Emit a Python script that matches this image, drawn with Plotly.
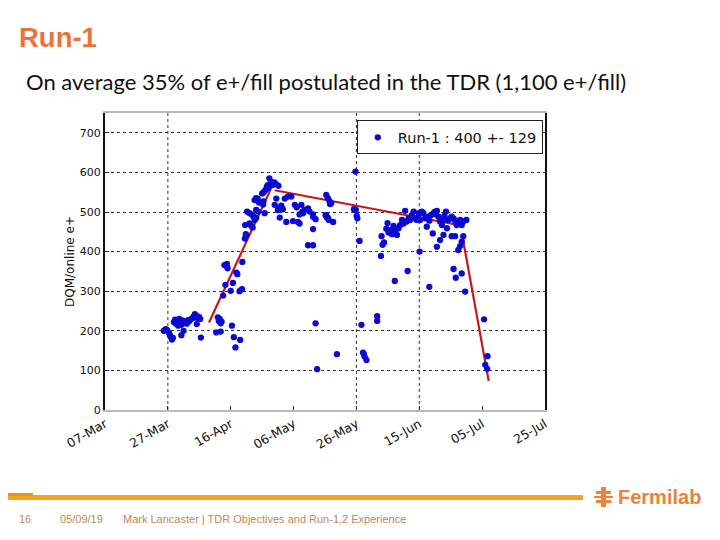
import pandas as pd
import plotly.graph_objects as go

# ---------------- data ----------------
start_date = "2018-03-07"

# days since start_date for each fill-group point
fill_day = [
    18.7, 19.3, 19.7, 20.3, 20.6, 20.9, 21.3, 21.6,
    21.9, 22.3, 22.6, 23.0, 23.3, 23.6, 24.0, 24.3, 24.6, 25.0, 25.5, 26.0, 26.4, 26.8,
    27.3, 27.8, 28.2, 28.6, 29.0, 29.4, 29.9, 30.3,
    24.3, 25.0, 29.2, 30.5,
    35.4, 35.9, 36.2, 36.5, 36.8, 37.1, 36.8, 40.4, 41.0, 41.5, 43.0,
    37.6, 38.3, 40.0, 40.7, 42.8, 43.6,
    38.0, 38.8, 39.0, 41.8, 42.1, 43.7,
    44.5, 44.8, 44.6, 45.0, 46.0, 46.5, 47.0,
    45.2, 46.0, 46.8, 47.3, 48.1, 47.6, 48.1, 50.8, 48.7,
    47.6, 48.1, 48.6, 49.0, 50.0, 50.5, 50.4, 50.3,
    52.3, 52.8, 53.3, 53.9, 54.5, 55.2, 51.8, 51.5, 51.0, 51.8,
    54.5, 57.2, 58.2, 59.3, 54.0, 55.6, 56.1, 56.6, 55.0, 55.6,
    57.7, 59.8, 61.4, 61.9,
    60.4, 62.5, 63.5, 64.6, 65.1, 62.8, 61.9, 66.2, 66.2, 67.0, 61.0, 63.0,
    66.2, 64.6, 66.2,
    70.4, 70.9, 71.4, 71.6, 72.0, 70.2, 70.6, 71.2, 72.6, 70.4, 70.9,
    79.7, 79.2, 79.8, 80.1, 80.3, 81.0,
    67.0, 67.5, 73.8, 81.6, 82.1, 82.4, 82.6, 83.2, 86.6, 86.6,
    88.0, 88.3, 88.8, 87.8,
    89.9, 89.5, 90.2, 90.8, 91.3, 91.8, 92.4, 92.9, 93.4, 93.9, 94.5, 95.0, 95.5, 96.0,
    96.6, 97.1, 98.2, 98.7, 99.2, 99.7, 100.3, 100.8, 101.3, 101.9, 102.4, 102.9, 103.7,
    104.5, 105.0, 105.6, 106.1, 106.6, 107.2, 107.7, 108.5, 109.3, 109.8, 110.9, 111.4,
    111.9, 113.0, 113.5, 114.0, 115.0, 97.6, 99.9, 103.2, 105.3, 108.0, 110.3, 112.2,
    104.3, 105.6, 106.6, 107.7, 108.8, 110.3, 111.4, 112.4, 113.0, 113.5, 114.0,
    100.1, 96.3, 92.2, 103.2, 110.9, 111.6, 113.5, 114.6,
    120.6, 121.7, 121.0, 121.6,
]

# DQM/online e+ per fill
e_per_fill = [
    200, 204, 202, 196, 190, 185, 178, 182,
    222, 228, 218, 225, 213, 230, 221, 215, 226, 220, 223, 218, 227, 224,
    229, 232, 236, 242, 238, 232, 235, 230,
    189, 200, 217, 183,
    196, 234, 225, 230, 219, 223, 198, 213, 184, 158, 177,
    289, 316, 301, 321, 300, 305,
    366, 369, 358, 347, 343, 374,
    433, 444, 467, 441, 471, 465, 461,
    501, 497, 493, 488, 485, 480, 505, 497, 501,
    530, 535, 534, 524, 547, 550, 527, 519,
    585, 576, 568, 575, 570, 566, 568, 564, 555, 560,
    534, 534, 539, 539, 518, 511, 516, 507, 505, 486,
    475, 477, 475, 471,
    518, 518, 505, 509, 501, 501, 494, 494, 488, 482, 512, 497,
    457, 416, 416,
    543, 535, 528, 520, 522, 492, 486, 480, 475, 492, 486,
    602, 507, 505, 490, 484, 427,
    219, 103, 141, 215, 145, 141, 135, 126, 237, 225,
    439, 417, 423, 389,
    472, 458, 448, 455, 444, 465, 453, 442, 459, 467, 480, 471, 503, 476,
    484, 480, 501, 484, 480, 488, 480, 501, 497, 484, 463, 488, 492,
    497, 501, 503, 488, 476, 467, 480, 501, 480, 484, 484, 478,
    467, 480, 467, 476, 480, 492, 497, 478, 494, 490, 488, 472,
    446, 412, 429, 442, 459, 439, 439, 404, 414, 425, 439,
    400, 351, 326, 311, 356, 334, 345, 299,
    229, 136, 114, 104,
]

# piece-wise linear trend (red lines)
fit_days = [[33.1, 53.8], [54.0, 113.2], [113.6, 122.1]]
fit_vals = [[221, 576], [555, 466], [444, 73]]

legend_label = "Run-1 : 400 +- 129"
y_tick_values = [0, 100, 200, 300, 400, 500, 600, 700]
x_grid_days = [20, 80, 100]  # visible vertical grid lines (days since start)

# ---------------- figure ----------------
t0 = pd.Timestamp(start_date)
def to_dates(days):
    return [t0 + pd.Timedelta(days=d) for d in days]

fig = go.Figure()

for fd, fv in zip(fit_days, fit_vals):
    fig.add_trace(go.Scatter(
        x=to_dates(fd), y=fv, mode="lines",
        line=dict(color="#c8161d", width=2.2),
        showlegend=False, hoverinfo="skip"))

fig.add_trace(go.Scatter(
    x=to_dates(fill_day), y=e_per_fill, mode="markers",
    marker=dict(color="#0a0ad2", size=6.3, line=dict(width=0)),
    name=legend_label))

for d in x_grid_days:
    gx = t0 + pd.Timedelta(days=d)
    fig.add_shape(type="line", xref="x", yref="paper", x0=gx, x1=gx, y0=0, y1=1,
                  line=dict(color="#333333", width=1, dash="dot"), layer="below")

W_L, W_R, P_T, P_B = 105, 545, 113, 410
def px(x):
    return (x - W_L) / (W_R - W_L)
def py(y):
    return (P_B - y) / (P_B - P_T)

orange = "#f5a51c"
# footer bar
fig.add_shape(type="rect", xref="paper", yref="paper",
              x0=px(8), x1=px(583), y0=py(500), y1=py(495),
              fillcolor=orange, line=dict(width=0))
fig.add_shape(type="rect", xref="paper", yref="paper",
              x0=px(8), x1=px(33), y0=py(496), y1=py(493),
              fillcolor="#e8961a", line=dict(width=0))
# simple logo glyph
logo = "#e8823c"
for (x0, x1, y0, y1) in [(601, 606, 487, 507), (596, 611, 491, 494), (596, 611, 500, 503),
                         (594, 613, 496, 498)]:
    fig.add_shape(type="rect", xref="paper", yref="paper",
                  x0=px(x0), x1=px(x1), y0=py(y1), y1=py(y0),
                  fillcolor=logo, line=dict(width=0))

ann = [
    dict(text="<b>Run-1</b>", x=px(17), y=py(38), font=dict(family="Liberation Sans", size=27.5, color="#e8743b")),
    dict(text="On average 35% of e+/fill postulated in the TDR (1,100 e+/fill)", x=px(24), y=py(82),
         font=dict(family="Lato", size=22, color="#111111")),
    dict(text="16", x=px(17), y=py(519), font=dict(family="Liberation Sans", size=11, color="#c4875a")),
    dict(text="05/09/19", x=px(58), y=py(519), font=dict(family="Liberation Sans", size=11, color="#c4875a")),
    dict(text="Mark Lancaster | TDR Objectives and Run-1,2 Experience", x=px(121), y=py(519),
         font=dict(family="Liberation Sans", size=11, color="#c4875a")),
    dict(text="<b>Fermilab</b>", x=px(616), y=py(497), font=dict(family="Liberation Sans", size=20, color=logo)),
]
for a in ann:
    fig.add_annotation(xref="paper", yref="paper", xanchor="left", yanchor="middle",
                       showarrow=False, **a)

fig.update_layout(
    width=720, height=540,
    margin=dict(l=W_L, r=720 - W_R, t=P_T, b=540 - P_B),
    paper_bgcolor="white", plot_bgcolor="white",
    font=dict(family="DejaVu Sans", size=11, color="#111111"),
    showlegend=True,
    legend=dict(x=0.995, y=0.975, xanchor="right", yanchor="top",
                bgcolor="white", bordercolor="#222222", borderwidth=1,
                font=dict(family="DejaVu Sans", size=14.5, color="#111111"),
                itemsizing="trace"),
)
fig.update_xaxes(
    range=[t0, t0 + pd.Timedelta(days=140)],
    tick0=t0, dtick=20 * 86400000, tickformat="%d-%b", tickangle=-30,
    showgrid=False, zeroline=False,
    ticks="inside", ticklen=4, tickcolor="#333",
    showline=True, linecolor="#bbbbbb", linewidth=2, mirror=True,
    tickfont=dict(size=12.5),
)
fig.update_yaxes(
    range=[0, 750], tickvals=y_tick_values,
    showgrid=True, gridcolor="#333333", griddash="dot", gridwidth=1,
    zeroline=False, ticks="inside", ticklen=4, tickcolor="#333",
    showline=True, linecolor="#111111", linewidth=2, mirror=True,
    title=dict(text="DQM/online e+", font=dict(size=12), standoff=3),
    tickfont=dict(size=11),
)

fig.write_html("out.html")
